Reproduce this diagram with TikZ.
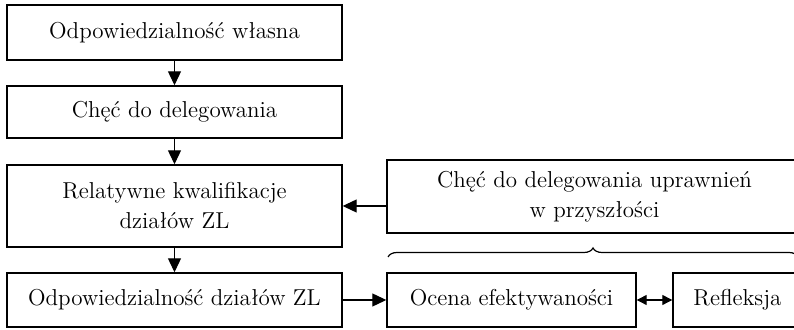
\documentclass[tikz,border=0pt]{standalone}
\usepackage{tikz}
\usetikzlibrary{arrows.meta,decorations.pathreplacing}
\tikzset{
  box/.style={draw, line width=0.7pt, align=center, inner sep=0pt,
    font=\fontsize{11.5}{15}\selectfont},
  arr/.style={line width=0.6pt, -{Triangle[length=7pt,width=6.5pt]}},
  dblarr/.style={line width=0.6pt, {Triangle[length=5pt,width=5pt]}-{Triangle[length=5pt,width=5pt]}}
}

\begin{document}
\begin{tikzpicture}[x=0.5pt,y=-0.5pt]
  \useasboundingbox (0,0) rectangle (794,330);
  % left column
  \node[box, minimum width=167.5pt, minimum height=27.5pt] (own) at (174.5,32.5) {Odpowiedzialność własna};
  \node[box, minimum width=167.5pt, minimum height=26pt] (will) at (174.5,112) {Chęć do delegowania};
  \node[box, minimum width=167.5pt, minimum height=41pt] (qual) at (174.5,206) {Relatywne kwalifikacje\\działów ZL};
  \node[box, minimum width=167.5pt, minimum height=27pt] (resp) at (174.5,300) {Odpowiedzialność działów ZL};
  % right side
  \node[box, minimum width=207.5pt, minimum height=36.5pt] (future) at (594.5,196.5) {Chęć do delegowania uprawnień\\w przyszłości};
  \node[box, minimum width=124.5pt, minimum height=27pt] (eval) at (511.5,300) {Ocena efektywaności};
  \node[box, minimum width=64.5pt, minimum height=27pt] (refl) at (737.5,300) {Refleksja};
  \coordinate (bl) at (388,257);
  \coordinate (br) at (798,257);
  % arrows
  \draw[arr] (own) -- (will);
  \draw[arr] (will) -- (qual);
  \draw[arr] (qual) -- (resp);
  \draw[arr] (future.west |- qual) -- (qual.east);
  \draw[arr] (resp) -- (eval);
  \draw[dblarr] (eval) -- (refl);
  \draw[line width=0.6pt, decorate, decoration={brace, amplitude=4.5pt}] (bl) -- (br);
\end{tikzpicture}
\end{document}
